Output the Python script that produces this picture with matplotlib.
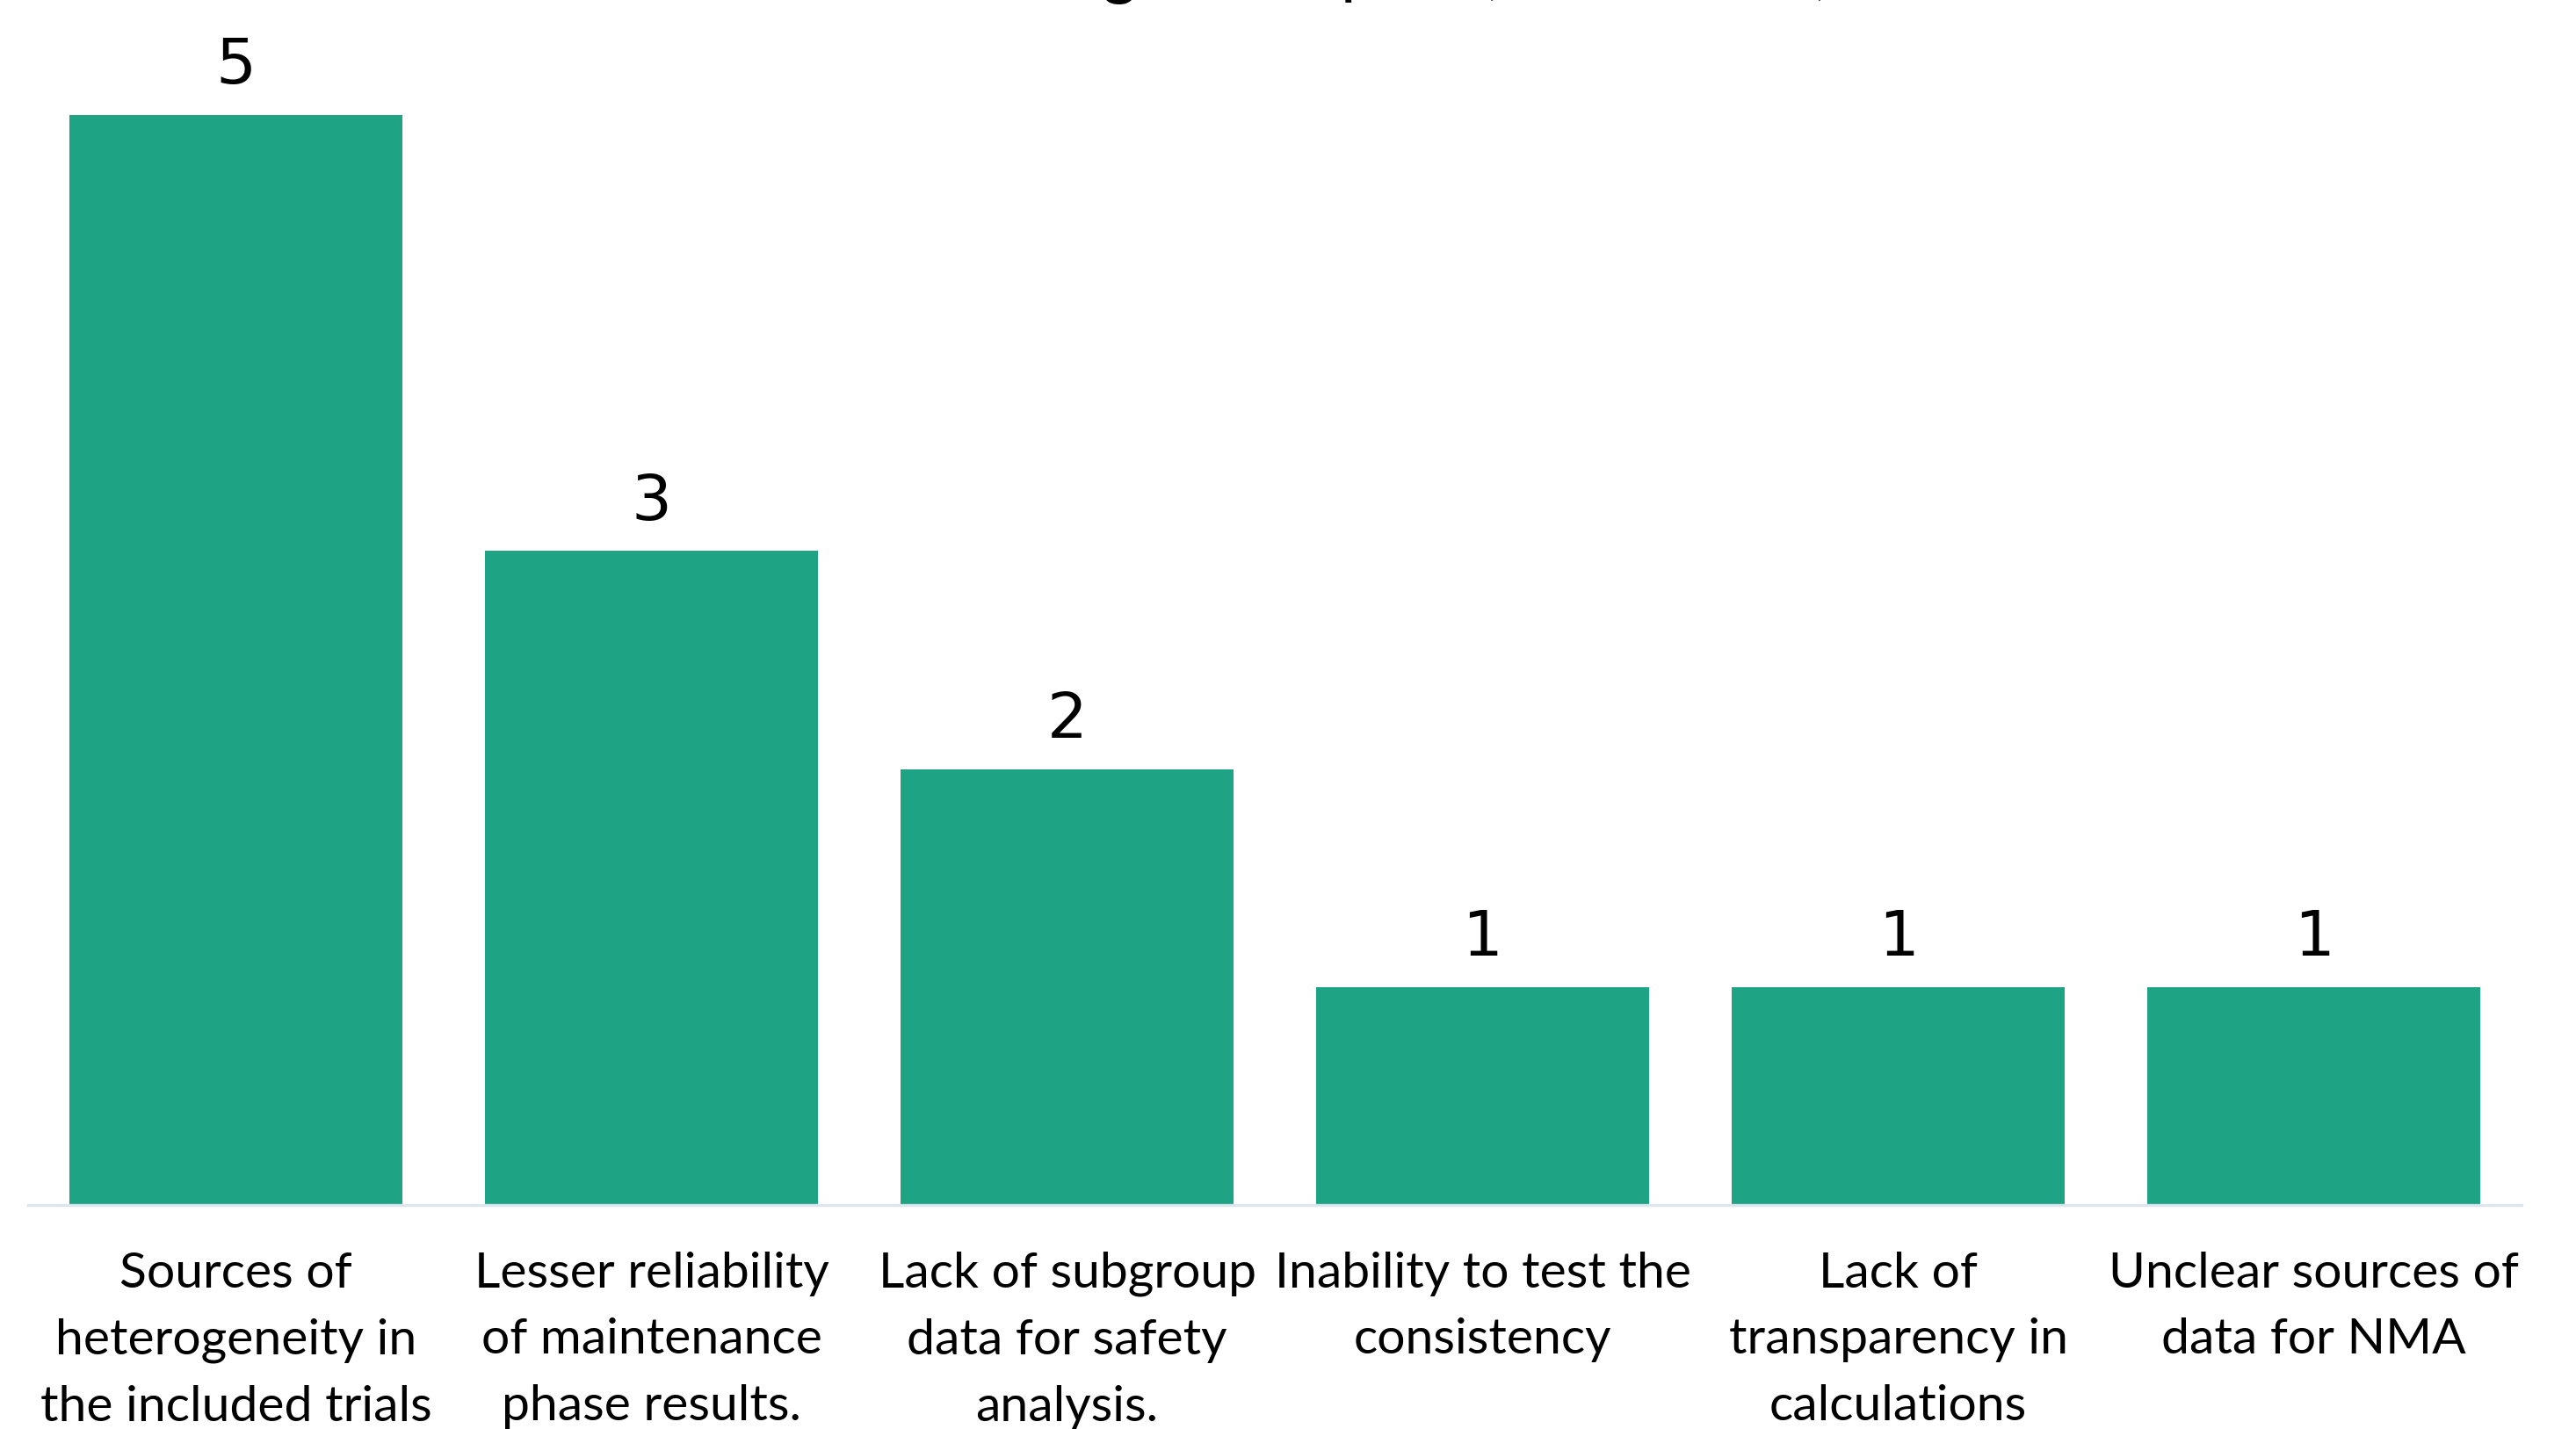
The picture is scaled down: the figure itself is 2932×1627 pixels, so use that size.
import matplotlib
matplotlib.use("Agg")
import matplotlib.pyplot as plt

# Data
categories = [
    "Sources of\nheterogeneity in\nthe included trials",
    "Lesser reliability\nof maintenance\nphase results.",
    "Lack of subgroup\ndata for safety\nanalysis.",
    "Inability to test the\nconsistency",
    "Lack of\ntransparency in\ncalculations",
    "Unclear sources of\ndata for NMA",
]
counts = [5, 3, 2, 1, 1, 1]
title = "Limitations identified in the grade report (13 reviews)"

bar_color = "#1fa385"
axis_color = "#dde6ef"

fig = plt.figure(figsize=(14.66, 8.135), dpi=200)
ax = fig.add_axes([0.0109, 0.1567, 0.9680, 0.7628])

x = list(range(len(categories)))
bars = ax.bar(x, counts, width=0.8, color=bar_color, zorder=2)
ax.bar_label(bars, labels=[str(c) for c in counts], padding=7.5,
             fontsize=26, family="DejaVu Sans", color="black")

ax.set_xlim(-0.5, len(categories) - 0.5)
ax.set_ylim(0, max(counts))
ax.set_xticks(x)
ax.set_xticklabels(categories, family="Lato", fontsize=20.5, linespacing=1.6)
ax.tick_params(axis="x", length=0, pad=19)
ax.set_yticks([])

for side in ["top", "left", "right"]:
    ax.spines[side].set_visible(False)
ax.spines["bottom"].set_color(axis_color)
ax.spines["bottom"].set_linewidth(1.2)

# title sits above the top edge, only the descenders are visible
fig.text(0.711, 1.006, title, ha="right", va="baseline",
         family="Lato", fontsize=27, color="black")

fig.savefig("out.png", dpi=200, facecolor="white")
